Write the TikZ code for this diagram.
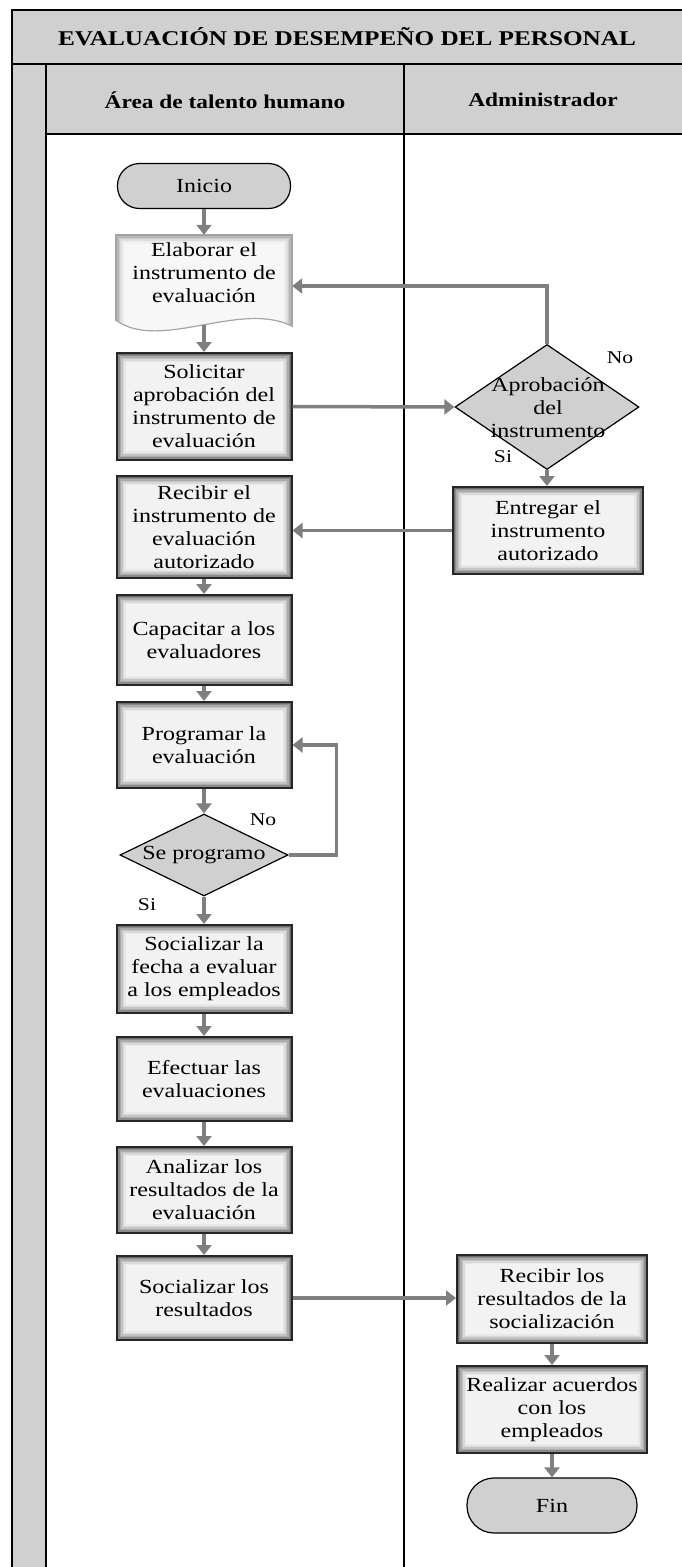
\documentclass[tikz,border=0pt]{standalone}
\usepackage{fontspec}
\setmainfont{Liberation Serif}[FakeStretch=1.2]
\usetikzlibrary{arrows.meta,shapes.geometric,calc}
\definecolor{hdrgray}{HTML}{D0D0D0}
\definecolor{conngray}{HTML}{7F7F7F}
\newcommand\bodyfont{\fontsize{20}{23}\selectfont}
\newcommand\labfont{\fontsize{18}{20}\selectfont}
\tikzset{
  frameline/.style={draw=black, line width=2pt},
  conn/.style={draw=conngray, line width=3.5pt, -{Triangle[width=15pt,length=10pt]}},
  procbox/.style={draw=black!85, line width=2pt, align=center, inner sep=0pt, font=\bodyfont,
    path picture={
      \foreach \i/\c in {0/58,1.5/45,3/33,4.5/23,6/15,7.5/9,9/5}{
        \fill[black!\c] ([shift={(\i pt,\i pt)}]path picture bounding box.south west)
          rectangle ([shift={(-\i pt,-\i pt)}]path picture bounding box.north east);
      }}},
  docshade/.style={draw=black!35, line width=1.2pt,
    path picture={
      \foreach \i/\c in {0/38,1.5/28,3/20,4.5/13,6/8,7.5/5,9/3}{
        \fill[black!\c] ([shift={(\i pt,\i pt)}]path picture bounding box.south west)
          rectangle ([shift={(-\i pt,-\i pt)}]path picture bounding box.north east);
      }}},
  term/.style={draw=black, line width=1.2pt, fill=hdrgray, rounded corners=22pt, font=\bodyfont, inner sep=0pt},
  decis/.style={diamond, draw=black, line width=1.2pt, fill=hdrgray, inner sep=0pt},
  txt/.style={align=center, font=\bodyfont, inner sep=0pt},
  lab/.style={font=\labfont, inner sep=0pt},
}
\begin{document}
\begin{tikzpicture}[x=1pt,y=-1pt]
\useasboundingbox (0,0) rectangle (682,1567);
% frame
\fill[hdrgray] (12,10) rectangle (700,134);
\fill[hdrgray] (12,64) rectangle (46,1590);
\draw[frameline] (12,1590) -- (12,10) -- (700,10);
\draw[frameline] (12,64) -- (700,64);
\draw[frameline] (46,64) -- (46,1590);
\draw[frameline] (46,134) -- (700,134);
\draw[frameline] (404,64) -- (404,1590);
\node[font=\bfseries\fontsize{21}{24}\selectfont] (title) at (347,37) {EVALUACIÓN DE DESEMPEÑO DEL PERSONAL};
\node[font=\bfseries\fontsize{19.5}{22}\selectfont] (lane1) at (225,100) {Área de talento humano};
\node[font=\bfseries\fontsize{19.5}{22}\selectfont] (lane2) at (543,100) {Administrador};

% nodes
\node[term, minimum width=173pt, minimum height=45pt] (ini) at (204,186) {Inicio};
\node[txt, minimum width=176pt, minimum height=76pt] (elab) at (204,273) {};
\path[docshade] (elab.north west) -- (elab.north east) -- ([yshift=-15pt]elab.south east)
  .. controls (240,300) and (160,352) .. ([yshift=-9pt]elab.south west) -- cycle;
\node[txt] at (elab) {Elaborar el\\instrumento de\\evaluación};
\coordinate (elabbot) at ([yshift=-14pt]elab.south);
\node[procbox, minimum width=175pt, minimum height=107pt] (sol) at (204,406.5) {Solicitar\\aprobación del\\instrumento de\\evaluación};
\node[decis, minimum width=184pt, minimum height=125pt] (apro) at (547,407) {};
\node[txt] at (548,408) {Aprobación\\del\\instrumento};
\node[procbox, minimum width=190pt, minimum height=87pt] (ent) at (548,530.5) {Entregar el\\instrumento\\autorizado};
\node[procbox, minimum width=175pt, minimum height=102pt] (rec) at (204,527) {Recibir el\\instrumento de\\evaluación\\autorizado};
\node[procbox, minimum width=175pt, minimum height=90pt] (cap) at (204,640) {Capacitar a los\\evaluadores};
\node[procbox, minimum width=175pt, minimum height=86pt] (prog) at (204,745) {Programar la\\evaluación};
\node[decis, minimum width=168pt, minimum height=82pt] (sep) at (204,855) {};
\node[txt] at (sep) {Se programo};
\node[procbox, minimum width=175pt, minimum height=88pt] (soc1) at (204,969) {Socializar la\\fecha a evaluar\\a los empleados};
\node[procbox, minimum width=175pt, minimum height=84pt] (efe) at (204,1079) {Efectuar las\\evaluaciones};
\node[procbox, minimum width=175pt, minimum height=86pt] (ana) at (204,1190) {Analizar los\\resultados de la\\evaluación};
\node[procbox, minimum width=175pt, minimum height=84pt] (soc2) at (204,1298) {Socializar los\\resultados};
\node[procbox, minimum width=190pt, minimum height=88pt] (recres) at (552,1299) {Recibir los\\resultados de la\\socialización};
\node[procbox, minimum width=190pt, minimum height=87pt] (real) at (552,1409.5) {Realizar acuerdos\\con los\\empleados};
\node[term, minimum width=170pt, minimum height=55pt, rounded corners=27pt] (fin) at (552,1505.5) {Fin};

% labels
\node[lab] (no1) at (620,358) {No};
\node[lab] (si1) at (503,457) {Si};
\node[lab] (no2) at (263,820) {No};
\node[lab] (si2) at (147,905) {Si};

% connectors
\draw[conn] (ini.south) -- (elab.north);
\draw[conn] (elabbot) -- (sol.north);
\draw[conn] (sol.east) -- (apro.west);
\draw[conn] (apro.north) |- ([yshift=-13pt]elab.east);
\draw[conn] (apro.south) -- (ent.north -| apro.south);
\draw[conn] (ent.west) -- (ent.west -| rec.east);
\draw[conn] (rec.south) -- (cap.north);
\draw[conn] (cap.south) -- (prog.north);
\draw[conn] (prog.south) -- (sep.north);
\draw[conn] (sep.east) -- ++(48,0) |- (prog.east);
\draw[conn] (sep.south) -- (soc1.north);
\draw[conn] (soc1.south) -- (efe.north);
\draw[conn] (efe.south) -- (ana.north);
\draw[conn] (ana.south) -- (soc2.north);
\draw[conn] (soc2.east) -- (soc2.east -| recres.west);
\draw[conn] (recres.south) -- (real.north);
\draw[conn] (real.south) -- (fin.north);
\end{tikzpicture}
\end{document}
